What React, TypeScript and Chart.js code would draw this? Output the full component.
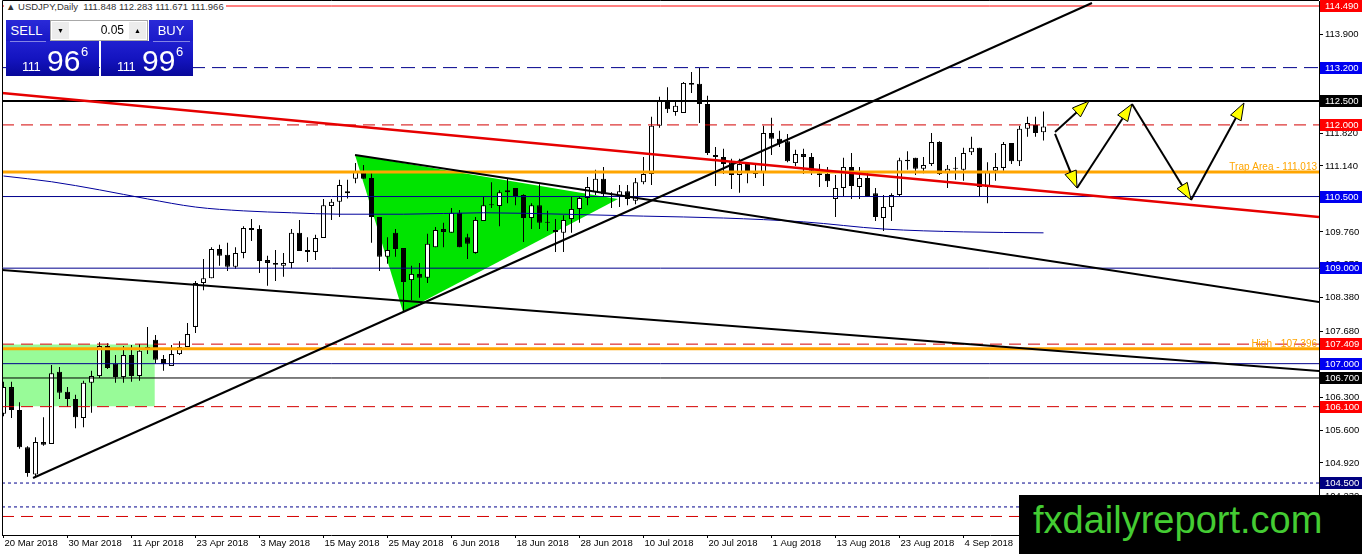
import { useEffect, useRef } from "react";
import { Chart, registerables } from "chart.js";

Chart.register(...registerables);

const FONT = "'Liberation Sans', Arial, sans-serif";

// USDJPY daily candles, bar 0 = 20 Mar 2018, bar 130 = current bar
const opens = [
  105.95, 106.51, 106.03, 105.25, 104.68, 105.36, 105.32, 106.83, 106.41, 106.26,
  105.86, 106.60, 106.74, 107.37, 107.00, 106.72, 107.18, 106.74, 107.29, 107.50,
  107.10, 106.95, 107.20, 107.35, 107.77, 108.69, 108.79, 109.40, 109.28, 109.03,
  109.32, 109.84, 109.82, 109.17, 109.11, 109.05, 109.11, 109.74, 109.38, 109.34,
  109.63, 110.30, 110.39, 110.61, 110.87, 111.01, 110.89, 110.07, 109.24, 109.74,
  109.42, 108.75, 108.88, 108.80, 109.44, 109.82, 109.74, 110.16, 109.65, 109.32,
  109.99, 110.34, 110.30, 110.63, 110.68, 110.53, 110.05, 110.32, 109.97, 109.80,
  109.74, 110.03, 110.24, 110.47, 110.59, 110.87, 110.51, 110.49, 110.61, 110.41,
  110.80, 110.97, 111.98, 112.50, 112.27, 112.25, 112.88, 112.86, 112.44, 111.37,
  111.33, 111.22, 110.95, 111.18, 110.99, 111.01, 111.83, 111.71, 111.66, 111.20,
  111.39, 111.33, 110.99, 110.97, 110.45, 110.68, 111.12, 110.70, 110.89, 110.57,
  110.05, 110.28, 110.53, 111.27, 111.31, 111.08, 111.18, 111.64, 110.99, 111.10,
  111.06, 111.43, 111.52, 110.70, 111.04, 111.10, 111.62, 111.24, 111.92, 112.00,
  111.848,
];
const highs = [
  106.62, 106.62, 106.19, 105.27, 105.46, 105.88, 106.97, 106.93, 106.51, 106.35,
  106.64, 106.85, 107.45, 107.43, 107.18, 107.37, 107.39, 107.41, 107.77, 107.60,
  107.18, 107.39, 107.47, 107.85, 108.73, 109.19, 109.44, 109.49, 109.53, 109.44,
  109.88, 110.03, 109.90, 109.26, 109.38, 109.32, 109.82, 110.01, 109.65, 109.70,
  110.45, 110.45, 110.85, 110.85, 111.20, 111.16, 110.99, 110.07, 109.65, 109.82,
  109.42, 109.05, 109.11, 109.72, 109.86, 109.95, 110.26, 110.22, 109.72, 110.07,
  110.49, 110.80, 110.63, 110.87, 110.68, 110.55, 110.36, 110.76, 110.20, 110.03,
  110.11, 110.49, 110.49, 110.91, 111.06, 111.12, 110.59, 110.74, 110.74, 110.89,
  111.33, 112.17, 112.59, 112.79, 112.48, 112.90, 113.11, 113.19, 112.61, 111.54,
  111.50, 111.29, 111.29, 111.22, 111.18, 111.98, 112.15, 111.88, 111.81, 111.48,
  111.50, 111.41, 111.18, 111.12, 110.95, 111.31, 111.41, 111.12, 110.99, 110.68,
  110.53, 110.57, 111.31, 111.45, 111.31, 111.33, 111.83, 111.66, 111.16, 111.33,
  111.52, 111.75, 111.52, 111.22, 111.41, 111.64, 111.62, 111.98, 112.17, 112.17,
  112.283,
];
const lows = [
  105.90, 105.86, 105.22, 104.63, 104.61, 105.28, 105.32, 106.26, 106.09, 105.65,
  105.67, 105.97, 106.70, 106.89, 106.60, 106.60, 106.62, 106.64, 107.20, 107.01,
  106.85, 106.95, 107.18, 107.35, 107.64, 108.54, 108.79, 109.05, 108.94, 108.99,
  109.21, 109.57, 108.90, 108.63, 108.73, 108.82, 109.00, 109.36, 109.13, 109.17,
  109.63, 110.01, 110.07, 110.46, 110.78, 110.87, 109.53, 108.94, 109.09, 109.24,
  108.08, 108.33, 108.38, 108.69, 109.44, 109.44, 109.74, 109.44, 109.19, 109.30,
  109.99, 110.26, 109.88, 110.36, 110.32, 109.55, 109.82, 109.82, 109.78, 109.34,
  109.34, 109.74, 109.95, 110.32, 110.53, 110.49, 110.26, 110.28, 110.32, 110.34,
  110.76, 110.74, 111.94, 112.25, 112.19, 112.25, 112.67, 112.04, 111.37, 110.72,
  110.97, 110.66, 110.58, 110.78, 110.89, 110.72, 111.37, 111.54, 111.22, 111.14,
  110.97, 110.95, 110.70, 110.70, 110.07, 110.49, 110.45, 110.45, 110.49, 109.99,
  109.78, 109.99, 110.51, 111.06, 110.95, 110.99, 111.14, 110.95, 110.68, 110.85,
  110.83, 111.37, 110.49, 110.36, 110.83, 111.04, 111.18, 111.14, 111.75, 111.75,
  111.671,
];
const closes = [
  106.51, 106.03, 105.25, 104.71, 105.36, 105.30, 106.80, 106.39, 106.26, 105.88,
  106.60, 106.74, 107.37, 106.91, 106.72, 107.18, 106.74, 107.27, 107.35, 107.08,
  106.99, 107.20, 107.35, 107.62, 108.69, 108.79, 109.40, 109.26, 109.03, 109.32,
  109.84, 109.80, 109.15, 109.11, 109.07, 109.11, 109.74, 109.36, 109.34, 109.63,
  110.32, 110.39, 110.74, 110.57, 111.03, 110.87, 110.07, 109.24, 109.38, 109.40,
  108.71, 108.88, 108.80, 109.51, 109.80, 109.76, 110.16, 109.44, 109.51, 110.01,
  110.32, 110.32, 110.59, 110.59, 110.51, 110.05, 110.32, 109.95, 109.95, 109.76,
  110.01, 110.24, 110.47, 110.70, 110.87, 110.55, 110.49, 110.61, 110.45, 110.80,
  110.97, 111.98, 112.50, 112.33, 112.40, 112.88, 112.84, 112.44, 111.41, 111.33,
  111.18, 110.95, 111.18, 111.01, 110.97, 111.83, 111.71, 111.62, 111.24, 111.39,
  111.33, 111.04, 110.95, 110.82, 110.68, 111.12, 110.72, 110.89, 110.49, 110.07,
  110.28, 110.53, 111.26, 111.24, 111.08, 111.16, 111.64, 110.97, 111.08, 111.08,
  111.41, 111.52, 110.70, 111.01, 111.12, 111.60, 111.24, 111.92, 112.04, 111.83,
  111.966,
];

// axis ticks
const xTickBars = [0, 8, 16, 24, 32, 40, 48, 56, 64, 72, 80, 88, 96, 104, 112, 120];
const xTickLabels = [
  "20 Mar 2018", "30 Mar 2018", "11 Apr 2018", "23 Apr 2018", "3 May 2018", "15 May 2018",
  "25 May 2018", "6 Jun 2018", "18 Jun 2018", "28 Jun 2018", "10 Jul 2018", "20 Jul 2018",
  "1 Aug 2018", "13 Aug 2018", "23 Aug 2018", "4 Sep 2018",
];
const yTicks = [
  113.9, 113.21, 112.52, 111.82, 111.14, 110.45, 109.76, 109.07, 108.38, 107.68,
  106.99, 106.3, 105.6, 104.92, 104.23,
];

const X_MIN = -0.1875;
const X_MAX = 164.4375;
const Y_MIN = 103.412;
const Y_MAX = 114.595;

// moving average (read at a few bars)
const maBars = [0, 6, 12, 18, 24, 30, 36, 42, 50, 60, 70, 80, 90, 100, 110, 120, 130];
const maValues = [
  110.93, 110.81, 110.64, 110.45, 110.28, 110.2, 110.16, 110.13, 110.13, 110.16,
  110.13, 110.09, 110.05, 109.97, 109.82, 109.76, 109.74,
];

// horizontal levels
const levels = [114.49, 113.2, 112.5, 112.0, 111.013, 110.5, 109.0, 107.409, 107.31, 107.0, 106.7, 106.1, 104.5, 104.0, 103.8];
const levelColors = ["#ff0000", "#00008c", "#000000", "#d40000", "#ffa500", "#00008c", "#00008c", "#d40000", "#ffa500", "#00008c", "#000000", "#d40000", "#00008c", "#00008c", "#d40000"];
const levelWidths = [1, 1, 2, 1, 3, 1, 1, 1, 3, 1, 1, 1, 1, 1, 1];
const levelDashes = [[], [14, 7], [], [12, 7], [], [], [], [12, 7], [], [], [], [12, 7], [3, 3], [3, 3], [12, 7]];
const levelBoxes = ["#ff0000", "#0000f0", "#000000", "#ff0000", "", "#0000f0", "#0000f0", "#ff0000", "", "#0000f0", "#000000", "#ff0000", "#000080", "#000080", "#ff0000"];

const noteTexts = ["Trap Area - 111.013", "High - 107.396"];
const noteLevels = [111.013, 107.31];

// trend lines
const trendFromBar = [X_MIN, 3.69, 43.94, X_MIN];
const trendFromPrice = [112.668, 104.605, 111.37, 108.962];
const trendToBar = [X_MAX, 136.06, X_MAX, X_MAX];
const trendToPrice = [110.072, 114.553, 108.291, 106.846];
const trendColors = ["#e60000", "#000000", "#000000", "#000000"];
const trendWidths = [2.5, 2, 2, 2];

// shapes
const triBars = [43.94, 49.94, 76.81];
const triPrices = [111.37, 108.082, 110.448];
const zoneBars = [X_MIN, 18.9];
const zonePrices = [107.4, 106.11];

// projection arrows
const arrowFromBar = [131.44, 131.44, 134.19, 141.06, 148.44];
const arrowFromPrice = [111.852, 111.81, 110.679, 112.438, 110.428];
const arrowToBar = [135.69, 134.19, 141.06, 148.44, 155.06];
const arrowToPrice = [112.501, 110.679, 112.438, 110.428, 112.459];

const overlayPlugin = {
  id: "mt4overlay",
  afterDatasetsDraw(chart: any) {
    const { ctx, chartArea, scales } = chart;
    const x = scales.x;
    const y = scales.y;
    ctx.save();
    // arrows
    arrowFromBar.forEach((fb: number, k: number) => {
      const x1 = x.getPixelForValue(fb);
      const y1 = y.getPixelForValue(arrowFromPrice[k]);
      const x2 = x.getPixelForValue(arrowToBar[k]);
      const y2 = y.getPixelForValue(arrowToPrice[k]);
      const ang = Math.atan2(y2 - y1, x2 - x1);
      const len = 17;
      const half = 6;
      const bx = x2 - Math.cos(ang) * len;
      const by = y2 - Math.sin(ang) * len;
      ctx.strokeStyle = "#000";
      ctx.lineWidth = 2;
      ctx.beginPath();
      ctx.moveTo(x1, y1);
      ctx.lineTo(bx, by);
      ctx.stroke();
      ctx.beginPath();
      ctx.moveTo(x2, y2);
      ctx.lineTo(bx + Math.sin(ang) * half, by - Math.cos(ang) * half);
      ctx.lineTo(bx - Math.sin(ang) * half, by + Math.cos(ang) * half);
      ctx.closePath();
      ctx.fillStyle = "#ffff00";
      ctx.fill();
      ctx.lineWidth = 1;
      ctx.stroke();
    });
    // orange notes
    ctx.font = `10px ${FONT}`;
    ctx.fillStyle = "#ffa500";
    ctx.textAlign = "right";
    ctx.textBaseline = "alphabetic";
    noteTexts.forEach((t: string, k: number) => {
      ctx.fillText(t, chartArea.right - 2, y.getPixelForValue(noteLevels[k]) - 2);
    });
    // frame
    ctx.strokeStyle = "#000";
    ctx.lineWidth = 1;
    ctx.beginPath();
    ctx.moveTo(chartArea.left + 0.5, chartArea.bottom);
    ctx.lineTo(chartArea.left + 0.5, 0.5);
    ctx.lineTo(chartArea.right, 0.5);
    ctx.stroke();
    ctx.restore();
  },
  afterDraw(chart: any) {
    const { ctx, chartArea, scales } = chart;
    const y = scales.y;
    ctx.save();
    ctx.font = `9.5px ${FONT}`;
    ctx.textAlign = "left";
    ctx.textBaseline = "middle";
    levels.forEach((lv: number, k: number) => {
      if (!levelBoxes[k]) return;
      const py = Math.round(y.getPixelForValue(lv));
      ctx.fillStyle = levelBoxes[k];
      ctx.fillRect(chartArea.right + 1, py - 6, 43, 12);
      ctx.fillStyle = "#fff";
      ctx.fillText(lv.toFixed(3), chartArea.right + 6, py + 0.5);
    });
    ctx.restore();
  },
};

function PriceBox({ left, top, width, big, small }: { left: number; top: number; width: number; big: string; small: string }) {
  return (
    <div
      style={{
        position: "absolute",
        left,
        top,
        width,
        height: 35,
        background: "linear-gradient(180deg, #2020d0 0%, #1414c0 50%, #08089a 100%)",
        color: "#fff",
        fontFamily: FONT,
      }}
    >
      <span style={{ position: "absolute", left: 16, top: 19, fontSize: 13, lineHeight: "13px", letterSpacing: -0.5 }}>111</span>
      <span style={{ position: "absolute", left: 41, top: 5, fontSize: 30, lineHeight: "30px" }}>{big}</span>
      <span style={{ position: "absolute", left: 75, top: 4, fontSize: 13, lineHeight: "13px" }}>{small}</span>
    </div>
  );
}

export default function App() {
  const canvasRef = useRef<HTMLCanvasElement>(null);

  useEffect(() => {
    if (!canvasRef.current) return;
    const bars = opens.map((_, i) => i);
    const pt = (bx: number, p: number) => ({ x: bx, y: p });

    const trendSets = trendFromBar.map((fb, k) => ({
      type: "line" as const,
      data: [pt(fb, trendFromPrice[k]), pt(trendToBar[k], trendToPrice[k])],
      borderColor: trendColors[k],
      borderWidth: trendWidths[k],
      pointRadius: 0,
      fill: false,
      order: 2,
    }));
    const levelSets = levels.map((lv, k) => ({
      type: "line" as const,
      data: [pt(X_MIN, lv), pt(X_MAX, lv)],
      borderColor: levelColors[k],
      borderWidth: levelWidths[k],
      borderDash: levelDashes[k],
      pointRadius: 0,
      fill: false,
      order: 3,
    }));

    const chart = new Chart(canvasRef.current, {
      type: "bar",
      data: {
        datasets: [
          ...trendSets,
          ...levelSets,
          {
            type: "line",
            data: maBars.map((b, k) => pt(b, maValues[k])),
            borderColor: "#00009c",
            borderWidth: 1,
            pointRadius: 0,
            cubicInterpolationMode: "monotone",
            fill: false,
            order: 4,
          },
          {
            type: "bar",
            data: bars.map((i) => ({ x: i, y: [opens[i], closes[i]] })),
            backgroundColor: bars.map((i) => (closes[i] >= opens[i] ? "#ffffff" : "#000000")),
            borderColor: "#000000",
            borderWidth: 1,
            borderSkipped: false,
            barThickness: 5,
            minBarLength: 1,
            inflateAmount: 0,
            grouped: false,
            order: 10,
          },
          {
            type: "bar",
            data: bars.map((i) => ({ x: i, y: [lows[i], highs[i]] })),
            backgroundColor: "#000000",
            borderWidth: 0,
            barThickness: 1,
            inflateAmount: 0,
            grouped: false,
            order: 11,
          },
          {
            type: "line",
            data: [...triBars.map((b, k) => pt(b, triPrices[k])), pt(triBars[0], triPrices[0])],
            borderColor: "rgba(0,0,0,0)",
            borderWidth: 0,
            backgroundColor: "#00e400",
            fill: "shape",
            pointRadius: 0,
            order: 20,
          },
          {
            type: "line",
            data: [
              pt(zoneBars[0], zonePrices[0]),
              pt(zoneBars[1], zonePrices[0]),
              pt(zoneBars[1], zonePrices[1]),
              pt(zoneBars[0], zonePrices[1]),
              pt(zoneBars[0], zonePrices[0]),
            ],
            borderColor: "rgba(0,0,0,0)",
            borderWidth: 0,
            backgroundColor: "#98fb98",
            fill: "shape",
            pointRadius: 0,
            order: 21,
          },
        ] as any,
      },
      options: {
        responsive: false,
        animation: false,
        events: [],
        layout: { autoPadding: false, padding: { left: 2, top: 1, right: 0, bottom: 0 } },
        plugins: { legend: { display: false }, tooltip: { enabled: false } },
        scales: {
          x: {
            type: "linear",
            min: X_MIN,
            max: X_MAX,
            offset: false,
            afterBuildTicks: (s: any) => {
              s.ticks = xTickBars.map((v) => ({ value: v }));
            },
            afterFit: (s: any) => {
              s.height = 19;
              s.paddingLeft = 0;
              s.paddingRight = 0;
            },
            ticks: {
              autoSkip: false,
              maxRotation: 0,
              minRotation: 0,
              align: "start",
              labelOffset: 1,
              padding: 0,
              color: "#000",
              font: { family: FONT, size: 9.5 },
              callback: (_v: any, i: number) => xTickLabels[i],
            },
            grid: { offset: false, drawOnChartArea: false, drawTicks: true, tickLength: 3, color: "#000" },
            border: { display: true, color: "#000", width: 1 },
          },
          y: {
            type: "linear",
            position: "right",
            min: Y_MIN,
            max: Y_MAX,
            afterBuildTicks: (s: any) => {
              s.ticks = yTicks.map((v) => ({ value: v }));
            },
            afterFit: (s: any) => {
              s.width = 43;
              s.paddingTop = 0;
              s.paddingBottom = 0;
            },
            ticks: {
              autoSkip: false,
              padding: 2,
              color: "#000",
              font: { family: FONT, size: 9.5 },
              callback: (v: any) => Number(v).toFixed(3),
            },
            grid: { drawOnChartArea: false, drawTicks: true, tickLength: 4, color: "#000" },
            border: { display: true, color: "#000", width: 1 },
          },
        },
      } as any,
      plugins: [overlayPlugin],
    });

    return () => {
      chart.destroy();
    };
  }, []);

  return (
    <div style={{ position: "absolute", left: 0, top: 0, width: 1362, height: 554, background: "#fff", overflow: "hidden" }}>
      <canvas ref={canvasRef} width={1362} height={554} style={{ display: "block" }} />

      <div
        style={{
          position: "absolute",
          left: 4,
          top: 1,
          padding: "0 2px",
          background: "#fff",
          color: "#333",
          font: `9.5px ${FONT}`,
          lineHeight: "12px",
          whiteSpace: "pre",
        }}
      >
        {"▲ USDJPY,Daily  111.848 112.283 111.671 111.966"}
      </div>

      {/* one-click trading panel */}
      <div
        style={{
          position: "absolute",
          left: 6,
          top: 20,
          width: 93,
          height: 56,
          background: "linear-gradient(180deg, #2a2ad8 0%, #1616c4 40%, #08089a 100%)",
        }}
      />
      <div style={{ position: "absolute", left: 6, top: 20, width: 41, height: 21, color: "#fff", font: `13px ${FONT}`, lineHeight: "21px", textAlign: "center" }}>SELL</div>
      <div
        style={{
          position: "absolute",
          left: 50,
          top: 20,
          width: 96,
          height: 19,
          background: "#fff",
          border: "1px solid #a8a8a8",
          font: `12px ${FONT}`,
        }}
      >
        <div style={{ position: "absolute", left: 1, top: 1, width: 17, height: 17, background: "#ececec", fontSize: 7, lineHeight: "17px", textAlign: "center" }}>▼</div>
        <div style={{ position: "absolute", left: 20, top: 0, width: 53, height: 19, lineHeight: "19px", textAlign: "right", color: "#000" }}>0.05</div>
        <div style={{ position: "absolute", right: 1, top: 1, width: 17, height: 17, background: "#ececec", fontSize: 7, lineHeight: "17px", textAlign: "center" }}>▲</div>
      </div>
      <div
        style={{
          position: "absolute",
          left: 149,
          top: 20,
          width: 44,
          height: 21,
          background: "linear-gradient(180deg, #2a2ad8 0%, #1a1ac8 100%)",
          color: "#fff",
          font: `13px ${FONT}`,
          lineHeight: "21px",
          textAlign: "center",
        }}
      >
        BUY
      </div>
      <PriceBox left={6} top={41} width={93} big="96" small="6" />
      <PriceBox left={101} top={41} width={92} big="99" small="6" />
      <div style={{ position: "absolute", left: 10, top: 41, width: 36, height: 1, background: "rgba(255,255,255,0.45)" }} />
      <div style={{ position: "absolute", left: 153, top: 41, width: 37, height: 1, background: "rgba(255,255,255,0.45)" }} />

      {/* watermark */}
      <div style={{ position: "absolute", left: 1019, top: 495, width: 343, height: 59, background: "#000" }}>
        <span
          style={{
            position: "absolute",
            left: 14,
            top: 6,
            font: `38px ${FONT}`,
            lineHeight: "38px",
            color: "#44cc33",
            whiteSpace: "nowrap",
          }}
        >
          fxdailyreport.com
        </span>
      </div>
    </div>
  );
}
